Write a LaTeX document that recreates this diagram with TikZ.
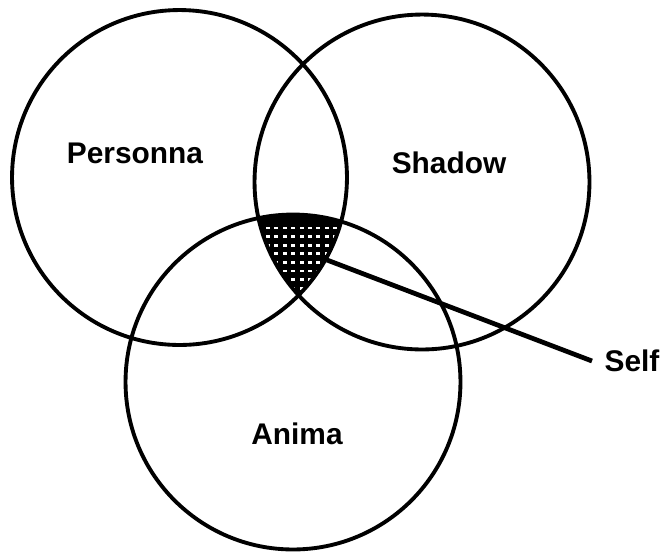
\documentclass[tikz,border=0pt]{standalone}
\usepackage{fontspec}
\setmainfont{Liberation Sans}
\usetikzlibrary{positioning}
\begin{document}
\begin{tikzpicture}[x=0.02cm,y=-0.02cm,
  ring/.style={draw,line width=2.2pt},
  lbl/.style={font=\bfseries\fontsize{17}{20}\selectfont,inner sep=0pt},
  lead/.style={line width=2.7pt}]
  \useasboundingbox (0,0) rectangle (666,556);
  % circle centres
  \coordinate (cP) at (179.5,177.5);
  \coordinate (cS) at (422,182);
  \coordinate (cA) at (293,382);

  % Self region: black with white dots
  \begin{scope}
    \clip (cP) circle[radius=3.35cm];
    \clip (cS) circle[radius=3.35cm];
    \fill (cA) circle[radius=3.35cm];
    \foreach \yy in {228,236.6,...,291}
      \foreach \xx in {268,276.4,...,338}
        \fill[white] (\xx-2,\yy-1.4) rectangle (\xx+2,\yy+1.4);
  \end{scope}

  % the three circles
  \draw[ring] (cP) circle[radius=3.35cm];
  \draw[ring] (cS) circle[radius=3.35cm];
  \draw[ring] (cA) circle[radius=3.35cm];

  % labels
  \node[lbl] (personna) at (135,153) {Personna};
  \node[lbl] (shadow) at (449,163) {Shadow};
  \node[lbl] (anima) at (297,434) {Anima};
  \node[lbl,inner xsep=7pt,anchor=west] (self) at (592,361) {Self};

  % pointer to Self
  \coordinate (core) at (327,260);
  \draw[lead] (core) -- (self.west);
\end{tikzpicture}
\end{document}
